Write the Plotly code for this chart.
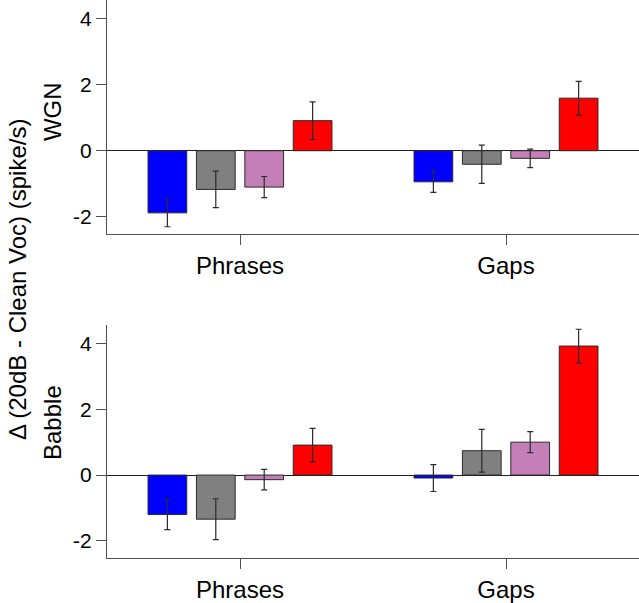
import plotly.graph_objects as go
from plotly.subplots import make_subplots

# categories and conditions
segments = ["Phrases", "Gaps"]
conditions = ["c1", "c2", "c3", "c4"]
bar_colors = ["#0000ff", "#808080", "#c47fb9", "#ff0000"]

# WGN panel: mean change and SEM per condition, [Phrases, Gaps]
wgn_means = [
    [-1.88, -0.94],
    [-1.17, -0.41],
    [-1.10, -0.23],
    [0.91, 1.59],
]
wgn_errs = [
    [0.42, 0.32],
    [0.55, 0.58],
    [0.32, 0.28],
    [0.57, 0.51],
]

# Babble panel
babble_means = [
    [-1.20, -0.09],
    [-1.34, 0.74],
    [-0.14, 1.00],
    [0.91, 3.92],
]
babble_errs = [
    [0.46, 0.41],
    [0.62, 0.65],
    [0.31, 0.32],
    [0.51, 0.51],
]

y_ticks = [-2, 0, 2, 4]
y_ticktext = ["-2", "0", "2", "4"]

fig = make_subplots(rows=2, cols=1, vertical_spacing=0.16)

for row, (means, errs) in enumerate([(wgn_means, wgn_errs), (babble_means, babble_errs)], start=1):
    for name, color, m, e in zip(conditions, bar_colors, means, errs):
        fig.add_trace(go.Bar(
            x=segments,
            y=m,
            name=name,
            marker=dict(color=color, line=dict(color="#2a2a2a", width=1)),
            error_y=dict(type="data", array=e, color="#2a2a2a", thickness=1.2, width=3),
            showlegend=False,
        ), row=row, col=1)

axis_font = dict(family="Liberation Sans, Arial, sans-serif", size=21, color="#000000")

fig.update_xaxes(
    type="category",
    range=[-0.5, 1.5],
    showline=True,
    linecolor="#505050",
    linewidth=1.2,
    ticks="outside",
    ticklen=10,
    tickcolor="#505050",
    showgrid=False,
    tickfont=dict(axis_font, size=24),
)
fig.update_yaxes(
    range=[-2.52, 4.56],
    tickvals=y_ticks,
    ticktext=y_ticktext,
    showline=True,
    linecolor="#505050",
    linewidth=1.2,
    ticks="outside",
    ticklen=10,
    tickcolor="#505050",
    showgrid=False,
    zeroline=True,
    zerolinecolor="#202020",
    zerolinewidth=1,
    tickfont=axis_font,
)

fig.update_layout(
    width=639,
    height=603,
    barmode="group",
    bargap=0.272,
    bargroupgap=0.2,
    paper_bgcolor="white",
    plot_bgcolor="white",
    margin=dict(l=107, r=0, t=0, b=45),
    font=dict(family="Liberation Sans, Arial, sans-serif", color="#000000"),
    xaxis=dict(domain=[0, 1]),
    yaxis=dict(domain=[0.5806, 1.0]),
    xaxis2=dict(domain=[0, 1]),
    yaxis2=dict(domain=[0.0, 0.4176]),
)

label_font = dict(family="Liberation Sans, Arial, sans-serif", size=24, color="#000000")
fig.add_annotation(text="WGN", xref="paper", yref="paper", x=-0.1034, y=0.801,
                   textangle=-90, showarrow=False, xanchor="center", yanchor="middle",
                   font=label_font)
fig.add_annotation(text="Babble", xref="paper", yref="paper", x=-0.1034, y=0.2437,
                   textangle=-90, showarrow=False, xanchor="center", yanchor="middle",
                   font=label_font)
fig.add_annotation(text="Δ (20dB - Clean Voc) (spike/s)", xref="paper", yref="paper",
                   x=-0.169, y=0.50, textangle=-90, showarrow=False,
                   xanchor="center", yanchor="middle", font=label_font)

# drop the default page margin so the figure fills the window
fig.write_html(
    "out.html",
    config={"displayModeBar": False},
    post_script="document.body.style.margin='0';",
)
